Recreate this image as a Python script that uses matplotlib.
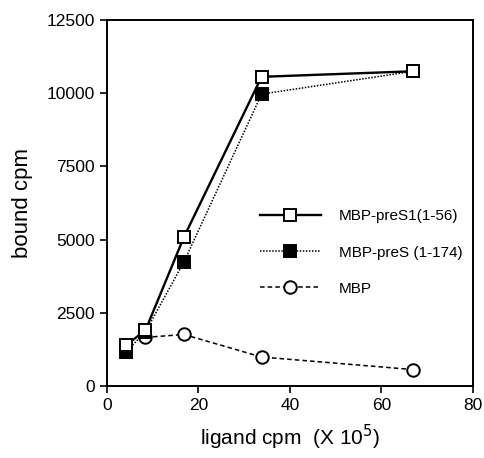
import matplotlib
matplotlib.use("Agg")
import matplotlib.pyplot as plt

# === DATA ===
ligand = [4.2, 8.4, 16.8, 33.8, 67.0]
pres1 = [1400, 1900, 5080, 10560, 10750]
pres = [1170, 1850, 4230, 9970, 10750]
mbp_x = [8.4, 16.8, 33.8, 67.0]
mbp = [1660, 1760, 990, 560]

plt.rcParams['font.family'] = ['Liberation Sans', 'DejaVu Sans']

fig = plt.figure(figsize=(4.85, 4.58), dpi=100)
ax = fig.add_axes([0.2206, 0.1572, 0.7544, 0.7991])

ax.plot(mbp_x, mbp, color='black', linestyle=(0, (3, 2)), linewidth=1.1,
        marker='o', markersize=9, markerfacecolor='white', markeredgewidth=1.4,
        label='MBP', zorder=2)
ax.plot(ligand, pres, color='black', linestyle=(0, (1, 1)), linewidth=1.1,
        marker='s', markersize=9, markerfacecolor='black', markeredgewidth=1.4,
        label='MBP-preS (1-174)', zorder=3)
ax.plot(ligand, pres1, color='black', linestyle='-', linewidth=1.7,
        marker='s', markersize=9, markerfacecolor='white', markeredgewidth=1.4,
        label='MBP-preS1(1-56)', zorder=4)

ax.set_xlim(0, 80)
ax.set_ylim(0, 12500)
ax.set_xticks([0, 20, 40, 60, 80])
ax.set_yticks([0, 2500, 5000, 7500, 10000, 12500])
ax.tick_params(direction='out', length=5, width=1.2, labelsize=12.5)
for s in ax.spines.values():
    s.set_linewidth(1.4)

ax.set_xlabel(r'ligand cpm  (X 10$^5$)', fontsize=15, labelpad=7)
ax.set_ylabel('bound cpm', fontsize=16, labelpad=10)

handles, labels = ax.get_legend_handles_labels()
order = [2, 1, 0]
ax.legend([handles[i] for i in order], [labels[i] for i in order],
          frameon=False, fontsize=11, handlelength=4.0, labelspacing=1.45,
          handletextpad=1.2, loc='upper left', bbox_to_anchor=(0.38, 0.52))

fig.savefig('out.png', dpi=100)
